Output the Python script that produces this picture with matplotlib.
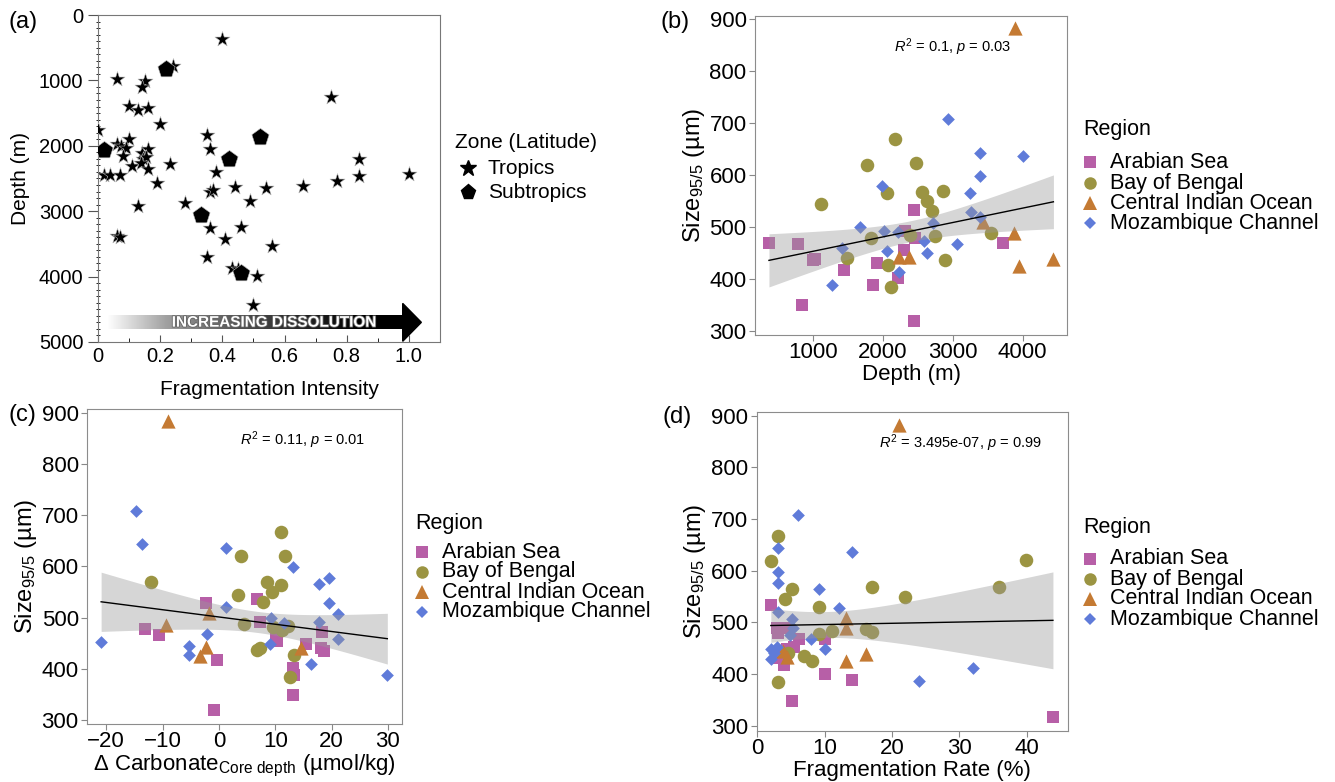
import numpy as np
import matplotlib
matplotlib.use("Agg")
import matplotlib.pyplot as plt
from matplotlib.lines import Line2D
from matplotlib.patches import Polygon
from matplotlib.colors import LinearSegmentedColormap
import matplotlib.patheffects as pe

plt.rcParams["font.family"] = ["Liberation Sans", "DejaVu Sans"]
plt.rcParams["mathtext.fontset"] = "custom"
plt.rcParams["mathtext.rm"] = "Liberation Sans"
plt.rcParams["mathtext.it"] = "Liberation Sans:italic"

# ---- panel (a): fragmentation intensity vs depth
trop_frag = [0.40, 0.24, 0.75, 0.06, 0.15, 0.14, 0.10, 0.13, 0.16, 0.20, 0.00, 0.35,
             0.36, 0.06, 0.075, 0.10, 0.09, 0.08, 0.11, 0.14, 0.16, 0.145, 0.155, 0.137,
             0.16, 0.23, 0.02, 0.04, 0.07, 0.19, 0.38, 0.44, 0.36, 0.37, 0.54, 0.66,
             0.84, 0.84, 0.77, 1.00, 0.28, 0.49, 0.13, 0.36, 0.46, 0.56, 0.41, 0.06,
             0.07, 0.35, 0.43, 0.45, 0.51, 0.50]
trop_depth = [360, 780, 1260, 985, 1010, 1107, 1393, 1454, 1418, 1668, 1760, 1832,
              2051, 1974, 2005, 1898, 2036, 2158, 2306, 2107, 2051, 2209, 2168, 2270,
              2362, 2280, 2449, 2444, 2449, 2566, 2398, 2627, 2714, 2678, 2638, 2612,
              2209, 2459, 2546, 2429, 2872, 2842, 2923, 3250, 3245, 3536, 3429, 3383,
              3393, 3699, 3862, 3883, 3995, 4429]
sub_frag = [0.22, 0.52, 0.019, 0.42, 0.33, 0.46]
sub_depth = [832, 1862, 2066, 2209, 3061, 3939]

# ---- panel (b): depth vs size95/5
arab_depth = [376, 790, 1000, 1030, 843, 1443, 1924, 1867, 2214, 2319, 2300, 2452, 2452, 2467, 3714]
arab_size_b = [470, 467, 436, 438, 349, 417, 431, 388, 402, 493, 456, 533, 319, 478, 470]
beng_depth = [1114, 1776, 2176, 2067, 2471, 1838, 2081, 2114, 1486, 2562, 2629, 2700, 2857, 2748, 2886, 2390, 3543]
beng_size_b = [545, 619, 669, 565, 623, 478, 427, 384, 441, 568, 550, 530, 570, 483, 437, 485, 488]
cio_depth = [3890, 2238, 2381, 3438, 3876, 3948, 4438]
cio_size_b = [883, 443, 443, 510, 488, 425, 439]
moz_depth = [2933, 3395, 4005, 3395, 1995, 3252, 1676, 2014, 2224, 3257, 3390, 2724, 1424,
             2057, 2629, 3067, 2586, 1276, 2229]
moz_size_b = [708, 643, 637, 598, 578, 565, 500, 493, 490, 528, 520, 507, 459,
              453, 450, 467, 472, 388, 414]

# ---- panel (c): delta carbonate vs size95/5
arab_dco3 = [-13.1, -10.6, -2.2, -0.35, -0.8, 6.8, 7.3, 10.4, 10.1, 13.1, 13.4, 13.1, 15.5, 18.3, 18.1, 18.6]
arab_size_c = [477, 466, 528, 417, 319, 536, 492, 455, 470, 402, 388, 349, 449, 471, 440, 434]
beng_dco3 = [-12.1, 3.9, 11.1, 11.8, 3.4, 8.5, 9.4, 11.0, 7.9, 4.5, 6.7, 7.3, 9.6, 11.2, 12.2, 13.3, 12.7]
beng_size_c = [570, 621, 668, 620, 545, 569, 550, 564, 530, 488, 437, 440, 482, 476, 483, 426, 383]
cio_dco3 = [-9.1, -9.4, -1.7, -3.3, -2.2, 14.6]
cio_size_c = [884, 486, 509, 424, 443, 441]
moz_dco3 = [-14.7, -13.6, -20.9, -5.3, -5.3, -2.1, 1.2, 1.2, 13.1, 9.2, 9.0, 11.5, 17.7,
            19.6, 19.6, 21.2, 17.7, 21.1, 16.4, 29.9]
moz_size_c = [709, 644, 453, 445, 427, 468, 637, 520, 599, 500, 448, 490, 565,
              577, 529, 507, 492, 458, 409, 388]

# ---- panel (d): fragmentation rate vs size95/5
arab_rate = [2.1, 2.9, 4.1, 3.2, 4.0, 4.4, 5.4, 6.2, 10.0, 10.0, 14.1, 5.1, 43.9, 3.05, 3.6]
arab_size_d = [533, 490, 490, 432, 417, 448, 453, 468, 468, 401, 388, 348, 318, 479, 437]
beng_rate = [2.1, 3.1, 4.1, 5.2, 9.1, 17.1, 22.0, 35.9, 39.9, 9.1, 11.1, 16.1, 17.1, 7.0, 8.1, 3.1, 4.6]
beng_size_d = [618, 667, 545, 564, 530, 568, 549, 568, 621, 477, 484, 487, 481, 435, 426, 384, 441]
cio_rate = [21.0, 13.1, 13.2, 13.1, 16.1, 4.4, 3.8]
cio_size_d = [882, 508, 489, 425, 439, 434, 444]
moz_rate = [6.1, 3.05, 3.05, 3.05, 3.05, 9.1, 14.0, 12.1, 5.2, 5.3, 8.0, 10.0, 2.0,
            2.0, 2.4, 24.0, 32.0, 4.8, 2.9]
moz_size_d = [707, 644, 598, 577, 520, 564, 636, 528, 506, 489, 468, 448, 448,
              429, 441, 387, 411, 475, 453]

regions = ["Arabian Sea", "Bay of Bengal", "Central Indian Ocean", "Mozambique Channel"]
colors = ["#b75fa7", "#9b9442", "#c47a33", "#5f7bd9"]
markers = ["s", "o", "^", "D"]
msizes = [75, 95, 105, 42]
stats = [r"$R^2$ = 0.1, $p$ = 0.03", r"$R^2$ = 0.11, $p$ = 0.01",
         r"$R^2$ = 3.495e-07, $p$ = 0.99"]
# the ~880 um sample is left out of the trend in (b) and (c)
fit_cut = [850, 850, 1000]

fig = plt.figure(figsize=(13.35, 7.82), dpi=100)

# ---------------- (a)
ax = fig.add_axes([0.0734, 0.5627, 0.2562, 0.4181])
ax.scatter(trop_frag, trop_depth, marker="*", s=130, c="black", edgecolors="#bbbbbb",
           linewidths=0.4, zorder=3)
ax.scatter(sub_frag, sub_depth, marker="p", s=170, c="black", edgecolors="#bbbbbb",
           linewidths=0.4, zorder=3)
cmap = LinearSegmentedColormap.from_list(
    "dis", [(0, "white"), (0.2, "#a0a0a0"), (0.45, "#505050"), (0.85, "black"), (1, "black")])
ax.imshow(np.linspace(0, 1, 256).reshape(1, -1), cmap=cmap, aspect="auto",
          extent=(0.03, 0.985, 4800, 4600), zorder=2)
ax.add_patch(Polygon([(0.98, 4410), (1.04, 4700), (0.98, 4990)], closed=True,
                     color="black", zorder=2))
ax.text(0.565, 4705, "INCREASING DISSOLUTION", color="white", fontsize=11,
        fontweight="bold", ha="center", va="center", zorder=4,
        path_effects=[pe.withStroke(linewidth=1.2, foreground="#666666")])
ax.set_xlim(0, 1.1)
ax.set_ylim(5000, 0)
ax.set_xticks([0, 0.2, 0.4, 0.6, 0.8, 1.0])
ax.set_xticklabels(["0", "0.2", "0.4", "0.6", "0.8", "1.0"])
ax.set_xticks(np.arange(0.1, 1.1, 0.2), minor=True)
ax.set_yticks(range(0, 5001, 1000))
ax.set_yticks(range(0, 5001, 100), minor=True)
ax.tick_params(axis="both", labelsize=14.5, color="#555555")
ax.tick_params(axis="x", direction="in", length=5)
ax.tick_params(axis="x", which="minor", direction="in", length=3)
ax.tick_params(axis="y", which="major", length=7)
ax.tick_params(axis="y", which="minor", length=3, direction="inout")
for sp in ax.spines.values():
    sp.set_color("#777777")
ax.set_xlabel("Fragmentation Intensity", fontsize=15, labelpad=10)
ax.set_ylabel("Depth (m)", fontsize=15, labelpad=6)
fig.text(0.006, 0.972, "(a)", fontsize=17, va="center")

# legend (a)
fig.text(455 / 1335, 1 - 143 / 782, "Zone (Latitude)", fontsize=15, va="center")
for yy, mk, lab, ms in [(168, "*", "Tropics", 12), (192, "p", "Subtropics", 11)]:
    fig.add_artist(Line2D([468 / 1335], [1 - yy / 782], marker=mk, color="black",
                          markersize=ms, linestyle="none", transform=fig.transFigure))
    fig.text(488 / 1335, 1 - yy / 782, lab, fontsize=15, va="center")


def fit_band(ax, xs, ys, cut):
    x = np.concatenate([np.asarray(v, float) for v in xs])
    y = np.concatenate([np.asarray(v, float) for v in ys])
    keep = y < cut
    x, y = x[keep], y[keep]
    n = len(x)
    b1, b0 = np.polyfit(x, y, 1)
    res = y - (b0 + b1 * x)
    s = np.sqrt(np.sum(res ** 2) / (n - 2))
    grid = np.linspace(x.min(), x.max(), 100)
    se = s * np.sqrt(1 / n + (grid - x.mean()) ** 2 / np.sum((x - x.mean()) ** 2))
    fit = b0 + b1 * grid
    ax.fill_between(grid, fit - 2.0 * se, fit + 2.0 * se, color="#999999", alpha=0.4,
                    linewidth=0, zorder=4)
    ax.plot(grid, fit, color="black", lw=1.0, zorder=5)


def region_panel(rect, xs, ys, cut, xlim, ylim, xticks, xlabel, stat, stat_xy, tag, tag_xy):
    ax = fig.add_axes(rect)
    for x, y, c, m, s in zip(xs, ys, colors, markers, msizes):
        ax.scatter(x, y, marker=m, s=s, c=c, linewidths=0, zorder=3)
    fit_band(ax, xs, ys, cut)
    ax.set_xlim(*xlim)
    ax.set_ylim(*ylim)
    ax.set_xticks(xticks)
    ax.set_yticks(range(300, 901, 100))
    ax.tick_params(labelsize=16, color="#888888", length=4, width=0.8, pad=2)
    ax.tick_params(axis="x", pad=1)
    for sp in ax.spines.values():
        sp.set_color("#8c8c8c")
    ax.set_xlabel(xlabel, fontsize=16, labelpad=1)
    ax.set_ylabel(r"Size$_{\mathregular{95/5}}$ (µm)", fontsize=17, labelpad=2)
    ax.text(stat_xy[0], stat_xy[1], stat, transform=fig.transFigure, fontsize=10.5,
            ha="center", va="center")
    fig.text(tag_xy[0], tag_xy[1], tag, fontsize=17, va="center")
    return ax


def region_legend(x0, ytitle, yitems):
    fig.text(x0 / 1335, 1 - ytitle / 782, "Region", fontsize=15.5, va="center")
    for yy, lab, c, m, ms in zip(yitems, regions, colors, markers, [9, 9, 10.5, 6.5]):
        fig.add_artist(Line2D([(x0 + 7) / 1335], [1 - yy / 782], marker=m, color=c,
                              markersize=ms, markeredgewidth=0, linestyle="none",
                              transform=fig.transFigure))
        fig.text((x0 + 27) / 1335, 1 - yy / 782, lab, fontsize=15.5, va="center")


region_panel([0.5655, 0.5716, 0.2338, 0.4079],
             [arab_depth, beng_depth, cio_depth, moz_depth],
             [arab_size_b, beng_size_b, cio_size_b, moz_size_b], fit_cut[0],
             (176, 4633), (292, 906), [1000, 2000, 3000, 4000], "Depth (m)",
             stats[0], (953 / 1335, 1 - 47 / 782), "(b)", (660 / 1335, 1 - 22 / 782))
region_legend(1083, 130, [162, 183, 203, 223])

region_panel([0.0652, 0.0742, 0.2359, 0.4028],
             [arab_dco3, beng_dco3, cio_dco3, moz_dco3],
             [arab_size_c, beng_size_c, cio_size_c, moz_size_c], fit_cut[1],
             (-23.4, 32.5), (292, 908), [-20, -10, 0, 10, 20, 30],
             r"Δ Carbonate$_{\mathregular{Core\ depth}}$ (µmol/kg)",
             stats[1], (303 / 1335, 1 - 440 / 782), "(c)", (8 / 1335, 1 - 415 / 782))
region_legend(415, 523, [552, 572, 592, 612])

region_panel([0.5668, 0.0652, 0.2330, 0.4079],
             [arab_rate, beng_rate, cio_rate, moz_rate],
             [arab_size_d, beng_size_d, cio_size_d, moz_size_d], fit_cut[2],
             (-0.1, 46.1), (290, 907), [0, 10, 20, 30, 40], "Fragmentation Rate (%)",
             stats[2], (960 / 1335, 1 - 443 / 782), "(d)", (662 / 1335, 1 - 417 / 782))
region_legend(1083, 528, [559, 579, 599, 619])

fig.savefig("out.png", dpi=100)
